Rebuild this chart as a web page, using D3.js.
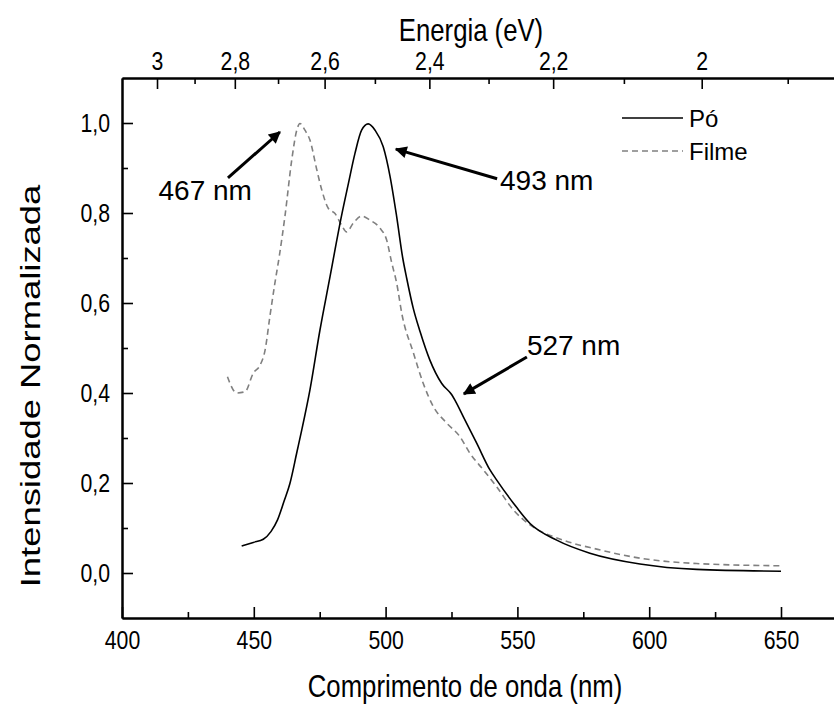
<!DOCTYPE html>
<html><head><meta charset="utf-8">
<script src="https://cdn.jsdelivr.net/npm/d3@7"></script>
<style>
html,body{margin:0;padding:0;background:#fff;}
svg{display:block;font-family:"Liberation Sans",Arial,sans-serif;}
</style></head>
<body><svg id="chart" width="834" height="704"></svg>
<script>
// ---- data ----
const poWavelength = [445.4,449.8,453.6,456.5,459.0,461.5,463.7,466.4,468.2,471.3,475.1,478.9,480.8,482.7,485.9,488.4,490.9,493.4,496.0,499.1,501.7,504.2,506.5,508.0,510.5,513.1,516.8,521.3,525.1,526.3,529.5,534.6,539.6,542.1,548.5,554.8,564.9,577.5,596.5,618,650];
const poIntensity  = [0.060,0.068,0.075,0.092,0.118,0.160,0.199,0.270,0.318,0.407,0.540,0.658,0.718,0.777,0.866,0.933,0.984,0.998,0.984,0.947,0.881,0.792,0.700,0.655,0.588,0.536,0.473,0.421,0.396,0.384,0.347,0.288,0.229,0.207,0.155,0.110,0.073,0.044,0.020,0.008,0.004];
const filmeWavelength = [440.0,443.5,446.7,449.8,452.4,454.3,456.1,458.0,459.7,461.8,464.4,466.3,467.5,469.4,471.3,473.9,475.8,478.3,480.8,483.3,485.2,487.7,490.9,494.1,497.9,500.4,502.3,504.2,506.2,510.5,514.3,518.1,523.2,528.2,532.0,537.1,542.1,548.5,554.8,567.4,580.1,596.5,618,650];
const filmeIntensity  = [0.436,0.400,0.403,0.444,0.462,0.496,0.570,0.644,0.705,0.792,0.918,0.984,0.999,0.984,0.962,0.896,0.851,0.810,0.799,0.773,0.758,0.777,0.793,0.784,0.766,0.740,0.690,0.644,0.575,0.490,0.421,0.370,0.333,0.303,0.266,0.229,0.192,0.140,0.107,0.073,0.053,0.033,0.021,0.016];
const xMajorTicks = [400,450,500,550,600,650];
const xMinorTicks = [425,475,525,575,625,675];
const yMajorTicks = [0,0.2,0.4,0.6,0.8,1.0];
const yMinorTicks = [0.1,0.3,0.5,0.7,0.9];
const energyMajorTicks = [3,2.8,2.6,2.4,2.2,2];
const energyMajorLabels = ["3","2,8","2,6","2,4","2,2","2"];
const energyMinorTicks = [2.9,2.7,2.5,2.3,2.1,1.9];
const seriesNames = ["Pó","Filme"];
// annotations in data units: label, text anchor point, arrow tail, arrow tip
const annotLabels = ["467 nm","493 nm","527 nm"];
const annotText = [[449.3,0.851],[543.4,0.873],[553.6,0.507]];
const annotTail = [[440.2,0.878],[542.3,0.876],[553.6,0.480]];
const annotTip  = [[459.9,0.980],[503.9,0.942],[529.7,0.398]];
const annotAnchor = ["end","start","start"];

// ---- layout ----
const svg = d3.select("#chart");
const x = d3.scaleLinear().domain([400,700]).range([122, 122+300*2.636]);
const y = d3.scaleLinear().domain([-0.1,1.1]).range([618,78]);
const hc = 1239.84;
const fmt = d => d3.format(".1f")(d).replace(".", ",");
const tickFont = 25, tickSX = 0.85;
const titleFont = 31, titleSX = 0.83;

function condense(sel, sx){
  sel.attr("transform", function(){
    const ax = +(this.getAttribute("x") || 0);
    return `translate(${ax},0) scale(${sx},1) translate(${-ax},0)`;
  });
}

svg.append("defs").append("marker")
  .attr("id","arrow").attr("viewBox","0 0 10 10").attr("refX",9).attr("refY",5)
  .attr("markerWidth",4.5).attr("markerHeight",4).attr("orient","auto")
  .attr("markerUnits","strokeWidth")
  .append("path").attr("d","M0,0 L10,5 L0,10 z").attr("fill","#000");

// bottom axis
svg.append("g").attr("transform",`translate(0,${y(-0.1)})`)
  .call(d3.axisBottom(x).tickValues(xMajorTicks).tickSizeInner(-11).tickSizeOuter(0).tickPadding(13).tickFormat(d3.format("d")));
svg.append("g").attr("transform",`translate(0,${y(-0.1)})`)
  .call(d3.axisBottom(x).tickValues(xMinorTicks).tickSizeInner(-6).tickSizeOuter(0).tickFormat(""));
// top axis (energy)
svg.append("g").attr("transform",`translate(0,${y(1.1)})`)
  .call(d3.axisTop(x).tickValues(energyMajorTicks.map(e=>hc/e)).tickSizeInner(-11).tickSizeOuter(0).tickPadding(8)
    .tickFormat((d,i)=>energyMajorLabels[i]));
svg.append("g").attr("transform",`translate(0,${y(1.1)})`)
  .call(d3.axisTop(x).tickValues(energyMinorTicks.map(e=>hc/e)).tickSizeInner(-6).tickSizeOuter(0).tickFormat(""));
// left axis
svg.append("g").attr("transform",`translate(${x(400)},0)`)
  .call(d3.axisLeft(y).tickValues(yMajorTicks).tickSizeInner(-11).tickSizeOuter(0).tickPadding(12).tickFormat(fmt));
svg.append("g").attr("transform",`translate(${x(400)},0)`)
  .call(d3.axisLeft(y).tickValues(yMinorTicks).tickSizeInner(-6).tickSizeOuter(0).tickFormat(""));

svg.selectAll(".domain").attr("stroke","#000").attr("stroke-width",2);
svg.selectAll(".tick line").attr("stroke","#000").attr("stroke-width",1.6);
svg.selectAll(".tick text").attr("font-size",tickFont).attr("fill","#000").attr("font-family","Liberation Sans, Arial, sans-serif")
  .call(condense, tickSX);

// axis titles
svg.append("text").attr("x",471).attr("y",41).attr("text-anchor","middle").attr("font-size",titleFont).text("Energia (eV)").call(condense, titleSX);
svg.append("text").attr("x",465).attr("y",697).attr("text-anchor","middle").attr("font-size",titleFont).text("Comprimento de onda (nm)").call(condense, titleSX);
svg.append("text").attr("transform","translate(40,386) rotate(-90) scale(1.3,1)").attr("text-anchor","middle").attr("font-size",28).text("Intensidade Normalizada");

// lines
const line = d3.line().x(d=>x(d[0])).y(d=>y(d[1])).curve(d3.curveMonotoneX);
const filmeData = filmeWavelength.map((w,i)=>[w,filmeIntensity[i]]);
const poData = poWavelength.map((w,i)=>[w,poIntensity[i]]);
svg.append("path").datum(filmeData).attr("d",line).attr("fill","none")
  .attr("stroke","#808080").attr("stroke-width",1.6).attr("stroke-dasharray","6,4");
svg.append("path").datum(poData).attr("d",line).attr("fill","none")
  .attr("stroke","#000").attr("stroke-width",1.6);

// legend
const legY = [118,151];
svg.append("line").attr("x1",622).attr("x2",683).attr("y1",legY[0]).attr("y2",legY[0]).attr("stroke","#000").attr("stroke-width",1.6);
svg.append("line").attr("x1",622).attr("x2",683).attr("y1",legY[1]).attr("y2",legY[1]).attr("stroke","#808080").attr("stroke-width",1.6).attr("stroke-dasharray","6,4");
seriesNames.forEach((n,i)=>{
  svg.append("text").attr("x",689).attr("y",legY[i]+9).attr("font-size",24).text(n);
});

// annotations
annotLabels.forEach((lab,i)=>{
  svg.append("line")
    .attr("x1",x(annotTail[i][0])).attr("y1",y(annotTail[i][1]))
    .attr("x2",x(annotTip[i][0])).attr("y2",y(annotTip[i][1]))
    .attr("stroke","#000").attr("stroke-width",3).attr("marker-end","url(#arrow)");
  svg.append("text").attr("x",x(annotText[i][0])).attr("y",y(annotText[i][1])+10)
    .attr("text-anchor",annotAnchor[i]).attr("font-size",28).text(lab);
});
</script></body></html>
